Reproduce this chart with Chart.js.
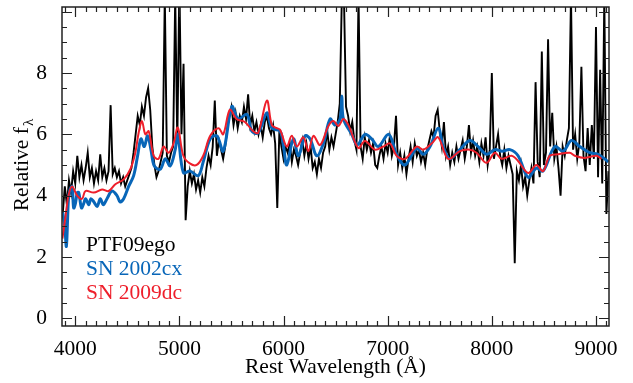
<!DOCTYPE html>
<html>
<head>
<meta charset="utf-8">
<script src="https://cdn.jsdelivr.net/npm/chart.js@4.4.0/dist/chart.umd.min.js"></script>
<style>
  html, body { margin: 0; padding: 0; background: #fff; }
  canvas { display: block; }
</style>
</head>
<body>
<canvas id="spec" width="633" height="383"></canvas>
<script>
// PTF09ego spectrum, every 20 A
const blackWave = [
  3880, 3900, 3920, 3940, 3960, 3980, 4000, 4020, 4040, 4060,
  4080, 4100, 4120, 4140, 4160, 4180, 4200, 4220, 4240, 4260,
  4280, 4300, 4320, 4340, 4360, 4380, 4400, 4420, 4440, 4460,
  4480, 4500, 4520, 4540, 4560, 4580, 4600, 4620, 4640, 4660,
  4680, 4700, 4720, 4740, 4760, 4780, 4800, 4820, 4840, 4860,
  4880, 4900, 4920, 4940, 4960, 4980, 5000, 5020, 5040, 5060,
  5080, 5100, 5120, 5140, 5160, 5180, 5200, 5220, 5240, 5260,
  5280, 5300, 5320, 5340, 5360, 5380, 5400, 5420, 5440, 5460,
  5480, 5500, 5520, 5540, 5560, 5580, 5600, 5620, 5640, 5660,
  5680, 5700, 5720, 5740, 5760, 5780, 5800, 5820, 5840, 5860,
  5880, 5900, 5920, 5940, 5960, 5980, 6000, 6020, 6040, 6060,
  6080, 6100, 6120, 6140, 6160, 6180, 6200, 6220, 6240, 6260,
  6280, 6300, 6320, 6340, 6360, 6380, 6400, 6420, 6440, 6460,
  6480, 6500, 6520, 6540, 6560, 6580, 6600, 6620, 6640, 6660,
  6680, 6700, 6720, 6740, 6760, 6780, 6800, 6820, 6840, 6860,
  6880, 6900, 6920, 6940, 6960, 6980, 7000, 7020, 7040, 7060,
  7080, 7100, 7120, 7140, 7160, 7180, 7200, 7220, 7240, 7260,
  7280, 7300, 7320, 7340, 7360, 7380, 7400, 7420, 7440, 7460,
  7480, 7500, 7520, 7540, 7560, 7580, 7600, 7620, 7640, 7660,
  7680, 7700, 7720, 7740, 7760, 7780, 7800, 7820, 7840, 7860,
  7880, 7900, 7920, 7940, 7960, 7980, 8000, 8020, 8040, 8060,
  8080, 8100, 8120, 8140, 8160, 8180, 8200, 8220, 8240, 8260,
  8280, 8300, 8320, 8340, 8360, 8380, 8400, 8420, 8440, 8460,
  8480, 8500, 8520, 8540, 8560, 8580, 8600, 8620, 8640, 8660,
  8680, 8700, 8720, 8740, 8760, 8780, 8800, 8820, 8840, 8860,
  8880, 8900, 8920, 8940, 8960, 8980, 9000, 9020, 9040, 9060,
  9080, 9100, 9120
];
const blackFlux = [
  3.4, 4.3, 3.7, 4.5, 4.1, 4.8, 4.4, 5.3, 4.6, 5.0,
  4.5, 4.9, 5.4, 4.6, 4.9, 4.4, 4.8, 4.5, 5.35, 4.6,
  4.9, 4.5, 4.8, 6.95, 4.7, 4.9, 4.6, 4.8, 4.4, 4.6,
  4.3, 4.5, 4.7, 4.9, 5.4, 6.0, 6.6, 6.3, 6.9, 6.6,
  7.2, 7.5, 6.8, 5.6, 5.0, 4.6, 4.8, 5.1, 5.4, 10.5,
  5.3, 5.1, 5.4, 5.6, 10.5, 5.7, 11.0, 6.0, 8.3, 3.2,
  4.3, 4.8, 4.4, 4.7, 4.2, 4.5, 4.1, 4.6, 4.3, 4.9,
  5.3, 5.0, 5.6, 7.1, 5.3, 5.8, 5.5, 5.2, 5.6, 6.2,
  6.6, 6.9, 6.3, 6.7, 6.2, 6.6, 6.4, 6.9, 6.5, 7.3,
  6.3, 6.6, 6.1, 6.4, 6.0, 6.3, 5.9, 6.4, 6.6, 6.2,
  6.0, 6.3, 5.7, 3.6, 6.1, 5.6, 5.2, 5.6, 5.4, 5.7,
  5.1, 5.5, 5.3, 5.0, 5.4, 5.8, 5.3, 5.7, 5.2, 5.6,
  4.9, 5.1, 4.7, 5.2, 4.9, 5.4, 5.6, 6.1, 5.5, 5.9,
  5.6, 6.0, 6.4, 7.0, 10.5, 10.5, 6.9, 6.6, 6.1, 6.4,
  5.8, 5.5, 10.5, 5.6, 5.2, 5.9, 5.5, 5.8, 5.4, 5.7,
  5.0, 4.9, 5.3, 5.6, 5.2, 5.7, 5.4, 5.9, 5.3, 5.6,
  6.6, 5.0, 5.4, 4.9, 5.3, 4.7, 5.2, 5.6, 5.1, 5.7,
  5.3, 5.5, 5.1, 5.4, 5.0, 5.5, 5.8, 6.1, 5.9, 6.6,
  6.8, 6.1, 5.6, 6.4, 5.3, 5.6, 5.0, 5.4, 5.1, 5.6,
  5.2, 5.5, 5.8, 5.2, 5.6, 6.3, 5.4, 5.8, 5.3, 5.6,
  5.1, 5.7, 5.3, 5.9, 5.0, 5.5, 8.0, 5.2, 5.6, 6.0,
  5.3, 5.0, 5.5, 4.9, 5.3, 5.0, 4.7, 1.8, 4.8, 4.5,
  5.0, 4.3, 4.6, 4.0, 4.5, 4.9, 4.4, 7.7, 5.1, 4.6,
  8.7, 5.0, 5.4, 9.1, 5.6, 6.7, 5.2, 5.6, 4.9, 4.0,
  5.6, 5.3, 5.8, 6.2, 10.5, 5.5, 6.0, 5.2, 5.7, 8.2,
  5.3, 4.8, 6.2, 5.0, 6.3, 5.2, 9.5, 4.6, 8.1, 4.4,
  10.5, 3.4, 4.8
];

// SN 2002cx template
const blueWave = [
  3880, 3900, 3915, 3935, 3950, 3970, 3985, 4002, 4020, 4034, 4060, 4082, 4100, 4130,
  4150, 4178, 4210, 4241, 4270, 4305, 4353, 4401, 4430, 4465, 4513, 4561, 4599, 4631,
  4663, 4695, 4727, 4759, 4816, 4864, 4912, 4960, 4985, 5038, 5104, 5181, 5229, 5296,
  5360, 5421, 5504, 5565, 5648, 5696, 5757, 5840, 5888, 5967, 6000, 6031, 6095, 6143,
  6207, 6255, 6319, 6383, 6447, 6495, 6543, 6560, 6575, 6655, 6708, 6782, 6846, 6910,
  7010, 7086, 7166, 7278, 7342, 7406, 7485, 7533, 7597, 7693, 7789, 7869, 7949, 8029,
  8100, 8173, 8252, 8348, 8428, 8492, 8604, 8684, 8765, 8844, 8940, 9020, 9120
];
const blueFlux = [
  3.45, 3.0, 2.35, 3.9, 4.2, 4.3, 3.6, 3.75, 4.1, 4.1, 3.6, 3.75, 3.9, 3.7,
  3.9, 3.8, 3.65, 3.9, 3.7, 3.9, 4.15, 4.0, 3.8, 3.9, 4.3, 4.65, 5.3, 5.85,
  5.6, 5.95, 5.5, 4.97, 4.86, 5.2, 4.97, 5.5, 6.0, 4.75, 4.8, 4.65, 5.1, 5.85,
  5.95, 5.45, 6.9, 6.5, 6.65, 6.1, 6.05, 6.7, 6.2, 6.1, 5.6, 5.0, 5.85, 5.3,
  5.95, 5.85, 5.3, 5.7, 6.5, 6.3, 6.5, 7.25, 6.5, 6.0, 5.65, 6.0, 5.85, 5.6,
  6.0, 5.35, 5.0, 5.55, 5.35, 5.6, 6.2, 5.6, 5.2, 5.5, 5.8, 5.6, 5.35, 5.5,
  5.45, 5.5, 5.3, 4.6, 4.9, 4.8, 5.6, 5.45, 5.8, 5.6, 5.4, 5.35, 5.1
];

// SN 2009dc template
const redWave = [
  3877, 3906, 3935, 3970, 4018, 4066, 4098, 4178, 4258, 4321, 4385, 4465, 4529, 4577,
  4609, 4641, 4673, 4705, 4753, 4800, 4848, 4896, 4944, 4985, 5038, 5100, 5166, 5229,
  5296, 5376, 5421, 5485, 5549, 5629, 5709, 5757, 5840, 5888, 5936, 5967, 6031, 6079,
  6127, 6191, 6239, 6287, 6351, 6431, 6479, 6527, 6575, 6623, 6719, 6782, 6878, 6958,
  7022, 7086, 7166, 7278, 7342, 7422, 7485, 7581, 7693, 7789, 7853, 7949, 8029, 8093,
  8189, 8252, 8348, 8428, 8492, 8556, 8636, 8748, 8796, 8892, 9004, 9052
];
const redFlux = [
  2.6, 3.3, 4.0, 4.3, 4.0, 3.9, 4.15, 4.1, 4.2, 4.15, 4.37, 4.53, 4.86, 5.4,
  6.05, 6.43, 6.0, 6.1, 5.3, 5.2, 5.6, 5.4, 5.7, 6.22, 5.3, 5.05, 5.0, 5.3,
  5.95, 6.2, 6.0, 6.8, 6.5, 6.4, 6.1, 6.05, 7.1, 6.3, 6.2, 6.15, 5.6, 5.95,
  5.6, 5.9, 5.45, 5.95, 5.65, 6.27, 6.43, 6.27, 6.5, 6.3, 5.55, 5.78, 5.5, 5.6,
  5.7, 5.3, 5.2, 5.6, 5.5, 5.7, 5.9, 5.2, 5.45, 5.5, 5.4, 5.07, 5.4, 5.2,
  5.3, 5.13, 4.74, 5.0, 4.8, 5.3, 5.35, 5.4, 5.3, 5.23, 5.3, 5.2
];

const seriesNames = ['PTF09ego', 'SN 2002cx', 'SN 2009dc'];
const seriesColors = ['#000000', '#0866b8', '#ee1f2b'];
const xTickLabels = [4000, 5000, 6000, 7000, 8000, 9000];
const yTickLabels = [0, 2, 4, 6, 8];

const serif = "'Liberation Serif', 'Times New Roman', serif";
Chart.defaults.font.family = serif;
Chart.defaults.font.size = 21.5;
Chart.defaults.color = '#000';

function toPoints(xs, ys) {
  return xs.map((x, i) => ({ x: x, y: ys[i] }));
}

// box, inward ticks on all sides, legend text and axis titles
const frame = {
  id: 'frame',
  afterDatasetsDraw(chart) {
    const { ctx, chartArea: a, scales } = chart;
    const x = scales.x, y = scales.y;
    ctx.save();
    ctx.strokeStyle = '#222';
    ctx.lineWidth = 1.2;
    ctx.beginPath();
    for (let v = 3900; v <= 9100; v += 100) {
      const px = Math.round(x.getPixelForValue(v)) + 0.5;
      const len = v % 1000 === 0 ? 10 : 5;
      ctx.moveTo(px, a.bottom); ctx.lineTo(px, a.bottom - len);
      ctx.moveTo(px, a.top); ctx.lineTo(px, a.top + len);
    }
    for (let k = 0; k <= 20; k++) {
      const py = Math.round(y.getPixelForValue(k * 0.5)) + 0.5;
      const len = k % 4 === 0 ? 10 : 5;
      ctx.moveTo(a.left, py); ctx.lineTo(a.left + len, py);
      ctx.moveTo(a.right, py); ctx.lineTo(a.right - len, py);
    }
    ctx.stroke();
    ctx.lineWidth = 1.5;
    ctx.strokeRect(a.left, a.top, a.right - a.left, a.bottom - a.top);

    ctx.font = '21.5px ' + serif;
    ctx.textBaseline = 'alphabetic';
    ctx.textAlign = 'left';
    seriesNames.forEach((name, i) => {
      ctx.fillStyle = seriesColors[i];
      ctx.fillText(name, 86, 251 + i * 24);
    });

    // x title
    ctx.fillStyle = '#000';
    ctx.textAlign = 'center';
    ctx.fillText('Rest Wavelength (Å)', (a.left + a.right) / 2, 373);

    // y title with subscript lambda
    ctx.textAlign = 'left';
    ctx.translate(28, 165);
    ctx.rotate(-Math.PI / 2);
    const main = 'Relative f';
    const w1 = ctx.measureText(main).width;
    ctx.font = '15px ' + serif;
    const w2 = ctx.measureText('λ').width;
    const start = -(w1 + w2 + 1) / 2;
    ctx.fillText('λ', start + w1 + 1, 5);
    ctx.font = '21.5px ' + serif;
    ctx.fillText(main, start, 0);
    ctx.restore();
  }
};

new Chart(document.getElementById('spec'), {
  type: 'line',
  data: {
    datasets: [
      {
        label: seriesNames[2],
        data: toPoints(redWave, redFlux),
        borderColor: seriesColors[2],
        borderWidth: 2,
        pointRadius: 0,
        tension: 0.35,
        order: 1
      },
      {
        label: seriesNames[1],
        data: toPoints(blueWave, blueFlux),
        borderColor: seriesColors[1],
        borderWidth: 3,
        pointRadius: 0,
        tension: 0.35,
        order: 2
      },
      {
        label: seriesNames[0],
        data: toPoints(blackWave, blackFlux),
        borderColor: seriesColors[0],
        borderWidth: 1.9,
        pointRadius: 0,
        tension: 0,
        order: 3
      }
    ]
  },
  options: {
    responsive: false,
    animation: false,
    devicePixelRatio: 1,
    layout: { padding: { top: 7, right: 24, left: 0, bottom: 0 } },
    plugins: {
      legend: { display: false },
      tooltip: { enabled: false },
      title: { display: false }
    },
    scales: {
      x: {
        type: 'linear',
        min: 3873,
        max: 9125,
        grid: { display: false },
        border: { display: false },
        ticks: { padding: 2, maxRotation: 0, autoSkip: false, callback: v => String(v) },
        afterBuildTicks: s => { s.ticks = xTickLabels.map(v => ({ value: v })); },
        afterFit: s => { s.height = 57; s.paddingLeft = 0; s.paddingRight = 0; }
      },
      y: {
        min: -0.25,
        max: 10.15,
        grid: { display: false },
        border: { display: false },
        ticks: { padding: 7, callback: v => String(v) },
        afterBuildTicks: s => { s.ticks = yTickLabels.map(v => ({ value: v })); },
        afterFit: s => { s.width = 62; s.paddingTop = 0; s.paddingBottom = 0; }
      }
    }
  },
  plugins: [frame]
});
</script>
</body>
</html>
